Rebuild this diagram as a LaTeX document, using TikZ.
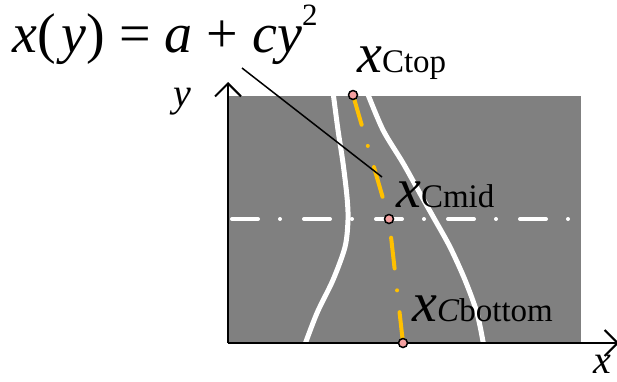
\documentclass[tikz,border=0pt]{standalone}
\usepackage{fontspec}
\setmainfont{Liberation Serif}
\usetikzlibrary{arrows.meta}
\definecolor{rdGray}{HTML}{808080}
\definecolor{rdYellow}{HTML}{FFC000}
\definecolor{rdPink}{HTML}{F4A0A0}
\tikzset{
  axisarrow/.style={line width=2pt, -{Straight Barb[length=13pt, width=26pt, line width=2pt]}},
  lane/.style={white, line width=5pt},
  centerline/.style={white, line width=4pt, line cap=round,
    dash pattern=on 26pt off 22pt on 0pt off 24pt},
  trackline/.style={rdYellow, line width=4pt, line cap=round,
    dash pattern=on 31pt off 22pt on 0pt off 22pt},
  ptmark/.style={circle, draw=black, line width=1.5pt, fill=rdPink,
    inner sep=0pt, minimum size=9pt},
  biglbl/.style={anchor=base west, inner sep=0pt, font=\fontsize{56}{60}\selectfont},
  axlbl/.style={anchor=base west, inner sep=0pt, font=\fontsize{40}{44}\selectfont\itshape},
  pointer/.style={line width=1.5pt},
}
\newcommand{\subsz}{\fontsize{33}{35}\selectfont}

\begin{document}
\begin{tikzpicture}[x=1pt, y=-1pt]
\useasboundingbox (0,0) rectangle (617,381);

% ---------- road surface ----------
\fill[rdGray] (228,96) rectangle (581,343);
\begin{scope}
  \clip (228,96) rectangle (581,343);
  \draw[lane] plot[smooth] coordinates {(333,92) (338,130) (343,163) (347,197)
    (348,220) (345,247) (333,280) (317,313) (304,347)};
  \draw[lane] plot[smooth] coordinates {(367,92) (383,130) (403,163) (422,197)
    (435,220) (450,247) (465,280) (477,313) (484,347)};
\end{scope}

% ---------- centre line and fitted track ----------
\coordinate (cl-start) at (232,219);
\coordinate (cl-end) at (575,219);
\draw[centerline] (cl-start) -- (cl-end);

\coordinate (ctop) at (353,95);
\coordinate (cmid) at (389,219);
\coordinate (cbottom) at (403,343);
\draw[trackline] (ctop) -- (cmid);
\draw[trackline] (cbottom) -- (cmid);

% ---------- formula and pointer ----------
\node[biglbl] (eq) at (12,52)
  {\textit{x}(\hspace{6pt}\textit{y}) = \textit{a} + \textit{cy}\raisebox{27pt}{\fontsize{31}{31}\selectfont 2}};
\coordinate (eq-foot) at (242,68);
\coordinate (mid-pointer) at (382,177);
\draw[pointer] (eq-foot) -- (mid-pointer);

% ---------- axes ----------
\coordinate (origin) at (228,343);
\coordinate (ytip) at (228,82);
\coordinate (xtip) at (619,343);
\draw[axisarrow] (origin) -- (ytip);
\draw[axisarrow] (origin) -- (xtip);
\node[axlbl] (ylbl) at (173,106) {y};
\node[axlbl] (xlbl) at (593,373) {x};

% ---------- measured points ----------
\node[ptmark] (ctop-pt) at (ctop) {};
\node[ptmark] (cmid-pt) at (cmid) {};
\node[ptmark] (cbottom-pt) at (cbottom) {};

\node[biglbl] (ctop-lbl) at (357,72) {\textit{x}{\subsz Ctop}};
\node[biglbl] (cmid-lbl) at (396,207) {\textit{x}{\subsz Cmid}};
\node[biglbl] (cbottom-lbl) at (412,321) {\textit{x}{\subsz\textit{C}bottom}};

\end{tikzpicture}
\end{document}
